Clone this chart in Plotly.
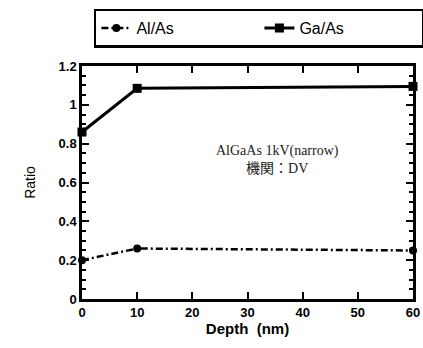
import plotly.graph_objects as go

depth = [0, 10, 60]
al_as = [0.20, 0.26, 0.25]
ga_as = [0.86, 1.085, 1.095]

fig = go.Figure()
fig.add_trace(go.Scatter(x=depth, y=al_as, name="Al/As", mode="lines+markers",
                         line=dict(color="black", width=2.5, dash="7px,3px,2px,3px"),
                         marker=dict(symbol="circle", size=8, color="black"),
                         cliponaxis=False))
fig.add_trace(go.Scatter(x=depth, y=ga_as, name="Ga/As", mode="lines+markers",
                         line=dict(color="black", width=3),
                         marker=dict(symbol="square", size=9, color="black"),
                         cliponaxis=False))

fig.add_annotation(x=0.59, y=0.68, xref="paper", yref="paper",
                   text="AlGaAs 1kV(narrow)<br>機関：DV", showarrow=False,
                   font=dict(family="Liberation Serif, Noto Sans CJK JP", size=14, color="#222"),
                   align="center")

axis_common = dict(showline=True, linecolor="black", linewidth=2.5, mirror="allticks",
                   ticks="inside", tickcolor="black", tickwidth=2, ticklen=7,
                   showgrid=False, zeroline=False,
                   tickfont=dict(family="Liberation Sans", size=13, color="black", weight="bold"))

fig.update_xaxes(range=[0, 60], tick0=0, dtick=10,
                 title=dict(text="Depth  (nm)", font=dict(family="Liberation Sans", size=15, color="black", weight="bold"), standoff=4),
                 **axis_common)
fig.update_yaxes(range=[0, 1.2], tick0=0, dtick=0.2,
                 minor=dict(dtick=0.05, ticks="inside", ticklen=4, tickwidth=2, tickcolor="black", showgrid=False),
                 title=dict(text="Ratio", font=dict(family="Liberation Sans", size=14, color="black"), standoff=20),
                 **axis_common)

fig.update_layout(
    width=423, height=348,
    margin=dict(l=82, r=10, t=66, b=49, autoexpand=False),
    plot_bgcolor="white", paper_bgcolor="white",
    legend=dict(orientation="h", xref="container", x=0.222, xanchor="left",
                yref="container", y=0.975, yanchor="top",
                bordercolor="black", borderwidth=2.5, entrywidth=118,
                font=dict(family="Liberation Sans", size=16, color="black")),
)

fig.write_html("out.html")
